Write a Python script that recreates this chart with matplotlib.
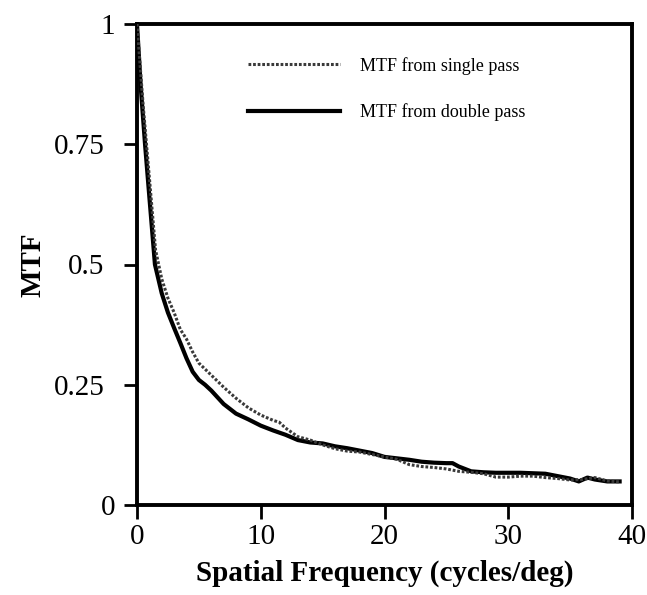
import matplotlib
matplotlib.use("Agg")
import matplotlib.pyplot as plt
import matplotlib.transforms as mtransforms

# Single-pass MTF (dotted)
x_single = [0, 0.5, 1, 1.5, 2, 2.5, 3, 3.5, 4, 4.5, 5, 6, 7, 8, 9, 10, 11, 11.5, 12, 13,
            14, 15, 16, 17, 18, 19, 20, 21, 22, 23, 24, 25, 26, 27, 28, 29, 30, 31, 32,
            33, 34, 35, 36, 37, 38, 39]
y_single = [1.0, 0.83, 0.68, 0.53, 0.47, 0.43, 0.40, 0.365, 0.345, 0.318, 0.295, 0.27,
            0.245, 0.222, 0.202, 0.187, 0.176, 0.172, 0.16, 0.142, 0.135, 0.125, 0.117,
            0.112, 0.11, 0.105, 0.1, 0.095, 0.084, 0.08, 0.078, 0.075, 0.07, 0.068, 0.065,
            0.058, 0.058, 0.06, 0.06, 0.057, 0.055, 0.052, 0.053, 0.057, 0.05, 0.048]

# Double-pass MTF (solid)
x_double = [0, 0.3, 0.65, 1, 1.45, 2, 2.5, 3, 3.5, 4, 4.5, 5, 5.5, 6, 7, 8, 9, 10, 11, 12,
            13, 14, 15, 16, 17, 18, 19, 20, 21, 22, 23, 24, 25, 25.5, 26, 27, 28, 29, 30,
            31, 32, 33, 34, 35, 35.7, 36.4, 37, 38, 39]
y_double = [1.0, 0.87, 0.75, 0.64, 0.5, 0.44, 0.40, 0.368, 0.337, 0.305, 0.277, 0.26,
            0.25, 0.238, 0.21, 0.19, 0.178, 0.165, 0.155, 0.146, 0.135, 0.13, 0.128,
            0.122, 0.118, 0.113, 0.108, 0.1, 0.097, 0.094, 0.09, 0.088, 0.087, 0.087,
            0.08, 0.07, 0.068, 0.067, 0.067, 0.067, 0.066, 0.065, 0.06, 0.055, 0.049,
            0.057, 0.053, 0.049, 0.049]

series_labels = ["MTF from single pass", "MTF from double pass"]
x_ticks = [0, 10, 20, 30, 40]
y_ticks = [0, 0.25, 0.5, 0.75, 1]
y_ticklabels = ["0", "0.25", "0.5", "0.75", "1"]

plt.rcParams['font.family'] = ['Liberation Serif', 'DejaVu Serif']

fig = plt.figure(figsize=(6.47, 5.95), dpi=100)
W, H = 647, 595
left, right, top, bottom = 137, 632, 24, 505
ax = fig.add_axes([left / W, 1 - bottom / H, (right - left) / W, (bottom - top) / H])

ax.plot(x_single, y_single, color='#3a3a3a', lw=2.2, linestyle=(0, (0.9, 0.6)),
        label=series_labels[0], zorder=3)
ax.plot(x_double, y_double, color='black', lw=3.0, label=series_labels[1],
        solid_joinstyle='round', zorder=2)

ax.set_xlim(0, 40)
ax.set_ylim(0, 1)
ax.set_xticks(x_ticks)
ax.set_xticklabels([str(t) for t in x_ticks])
ax.set_yticks(y_ticks)
ax.set_yticklabels(y_ticklabels)

for s in ax.spines.values():
    s.set_linewidth(2.8)
ax.tick_params(axis='y', direction='out', length=9.5, width=2, labelsize=21, pad=14)
ax.tick_params(axis='x', direction='out', length=10, width=2, labelsize=21, pad=4)

# the single-character labels sit closer to the axis in the reference
shift = mtransforms.ScaledTranslation(8 / 72, 0, fig.dpi_scale_trans)
for lbl in ax.get_yticklabels():
    if lbl.get_text() in ("0", "1"):
        lbl.set_transform(lbl.get_transform() + shift)

ax.set_xlabel("Spatial Frequency (cycles/deg)", fontsize=21, fontweight='bold', labelpad=7)
ax.set_ylabel("MTF", fontsize=21, fontweight='bold', labelpad=5)

ax.legend(loc='upper left', bbox_to_anchor=(0.224, 0.932), frameon=False, fontsize=13,
          handlelength=5.1, handletextpad=1.1, labelspacing=1.6, borderpad=0,
          borderaxespad=0)

fig.savefig("out.png", dpi=100)
